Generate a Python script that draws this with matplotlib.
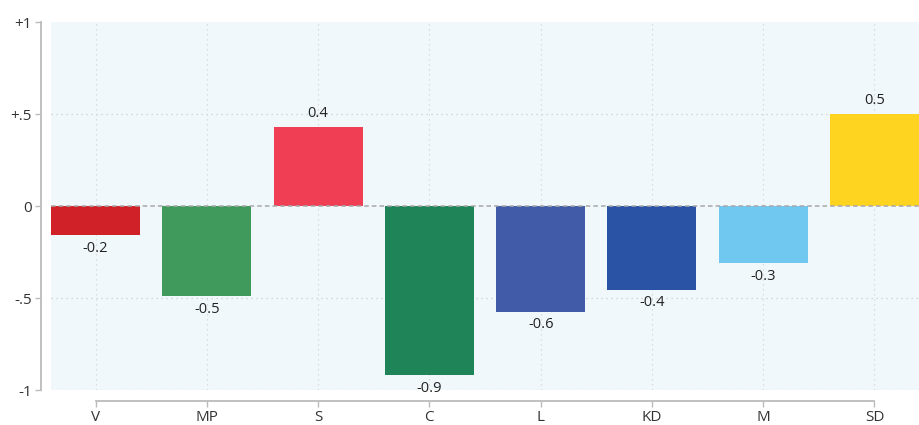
import matplotlib
matplotlib.use("Agg")
import matplotlib.pyplot as plt

categories = ["V", "MP", "S", "C", "L", "KD", "M", "SD"]
values = [-0.16, -0.49, 0.43, -0.92, -0.575, -0.455, -0.31, 0.5]
value_labels = ["-0.2", "-0.5", "0.4", "-0.9", "-0.6", "-0.4", "-0.3", "0.5"]
colors = ["#D02028", "#3F9A5C", "#F03E55", "#1F8559", "#415BA8", "#2A53A5", "#70C8F0", "#FFD420"]
ytick_vals = [1, 0.5, 0, -0.5, -1]
ytick_labels = ["+1", "+.5", "0", "-.5", "-1"]

plt.rcParams['font.family'] = ['Open Sans', 'DejaVu Sans']

PX = 72 / 100  # points per pixel

fig = plt.figure(figsize=(9.19, 4.25), dpi=100)
ax = fig.add_axes([51/919, 1-390/425, 868/919, 368/425])
ax.set_facecolor("#F1F8FC")

x = list(range(len(categories)))
ax.bar(x, values, width=0.8, color=colors, zorder=3)

for xi, v, lab in zip(x, values, value_labels):
    if v >= 0:
        ax.annotate(lab, (xi, v), xytext=(0, 4), textcoords="offset points",
                    ha="center", va="bottom", fontsize=10.5, color="#222222", zorder=4)
    else:
        ax.annotate(lab, (xi, v), xytext=(0, -4), textcoords="offset points",
                    ha="center", va="top", fontsize=10.5, color="#222222", zorder=4)

ax.axhline(0, color="#A8A8A8", lw=1.1, ls=(0, (3, 2)), zorder=4)

ax.set_xlim(-0.4, 7.4)
ax.set_ylim(-1, 1)

for yv in [0.5, -0.5, -1]:
    ax.axhline(yv, color="#CCCCCC", lw=0.9, ls=(0, (1, 3)), zorder=1)
for xi in x:
    ax.axvline(xi, color="#D4D4D4", lw=0.9, ls=(0, (1, 3)), zorder=1)

ax.set_xticks(x)
ax.set_xticklabels(categories)
ax.set_yticks(ytick_vals)
ax.set_yticklabels(ytick_labels)

for s in ["top", "right"]:
    ax.spines[s].set_visible(False)
ax.spines["left"].set_position(("outward", 10 * PX))
ax.spines["left"].set_bounds(-1, 1)
ax.spines["bottom"].set_position(("outward", 11 * PX))
ax.spines["bottom"].set_bounds(0, 7)
for s in ["left", "bottom"]:
    ax.spines[s].set_color("#BBBBBB")
    ax.spines[s].set_linewidth(1.3)

ax.tick_params(axis="both", colors="#BBBBBB", labelcolor="#333333", labelsize=11,
               length=6 * PX, width=1)
ax.tick_params(axis="y", pad=3 * PX)
ax.tick_params(axis="x", pad=3 * PX)

fig.savefig("out.png", dpi=100)
